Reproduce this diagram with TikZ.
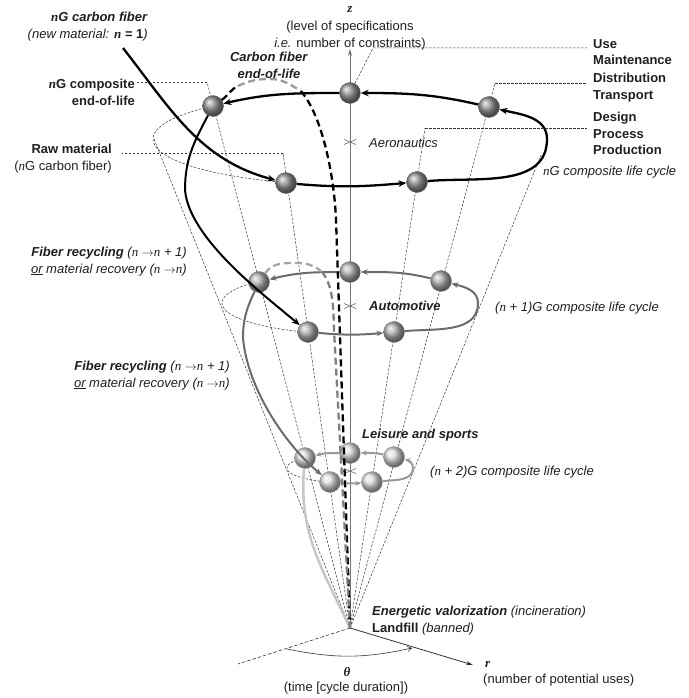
\documentclass[tikz,border=0pt]{standalone}
\usepackage{fontspec}
\setmainfont{Liberation Sans}
\newfontfamily\tms{Liberation Serif}
\usetikzlibrary{arrows.meta,calc}

\newcommand{\nv}{{\tms\itshape n}}
\newcommand{\bi}[1]{\textbf{\textit{#1}}}
\newcommand{\tto}{\ $\rightarrow$}

\tikzset{
  txt/.style={font=\fontsize{13}{16.5}\selectfont, text=black!88, inner sep=0pt},
  ballone/.style={circle, minimum size=21pt, inner sep=0pt, shading=ball, ball color=black!42, draw=black!60, line width=0.4pt},
  balltwo/.style={ballone, ball color=black!30, draw=black!50},
  ballthree/.style={ballone, ball color=black!13, draw=black!40},
  cycone/.style={black, line width=2.3pt, -{Stealth[length=8pt,width=6.5pt]}},
  cyctwo/.style={black!58, line width=2pt, -{Stealth[length=7pt,width=5.5pt]}},
  cycthree/.style={black!40, line width=2pt, -{Stealth[length=6pt,width=5pt]}},
  guide/.style={black!80, line width=0.5pt, dash pattern=on 2.5pt off 1.5pt},
  eol/.style={line width=2.3pt, dash pattern=on 7pt off 4pt},
}

\begin{document}
\begin{tikzpicture}[x=1pt,y=-1pt]
\useasboundingbox (0,0) rectangle (688,698);

% apex and guide ends
\coordinate (O) at (350,628);
\coordinate (zEnd) at (350,49);
\coordinate (rEnd) at (473,665);
\coordinate (thEnd) at (238,664);
\coordinate (th1) at (287,649);
\coordinate (th2) at (412,648);
\coordinate (kA) at (207,82);
\coordinate (kB) at (373,48);
\coordinate (kC) at (495,83);
\coordinate (kD) at (425,128);
\coordinate (kE) at (283,153);
\coordinate (coneL) at (154,139);
\coordinate (coneR) at (541,155);

% cone generatrices
\foreach \k in {coneL,coneR,kA,kC,kD,kE}
  \draw[guide] (O) -- (\k);

% hidden halves of the sections
\draw[guide] plot[domain=134:251,samples=40] ({350+197*cos(\x)},{139-46*sin(\x)});
\draw[guide] plot[domain=136:251,samples=40] ({350+128*cos(\x)},{303-31*sin(\x)});
\draw[guide] plot[domain=136:251,samples=30] ({350+63*cos(\x)},{468-15*sin(\x)});

% axes
\draw[black!55, line width=1pt, -{Stealth[length=7pt,width=4pt]}] (O) -- (zEnd);
\draw[black!80, line width=0.8pt, -{Stealth[length=7pt,width=4pt]}] (O) -- (rEnd);
\draw[black!80, line width=0.6pt, dash pattern=on 3.5pt off 2pt] (O) -- (thEnd);
\draw[black!80, line width=0.6pt, -{Straight Barb[length=4pt,width=5pt]}] (th1) to[bend right=12] (th2);

% section centres
\foreach \yc in {142,306,471}
  \draw[black!60, line width=0.6pt] (344,\yc-2.5) -- (356,\yc+2.5) (344,\yc+2.5) -- (356,\yc-2.5);

% nG composite life cycle
\node[ballone] (A1) at (213,106) {};
\node[ballone] (B1) at (350,93) {};
\node[ballone] (C1) at (489,107) {};
\node[ballone] (D1) at (417,182) {};
\node[ballone] (E1) at (286,183) {};
\coordinate (R1) at (547,139);

% (n+1)G composite life cycle
\node[balltwo] (A2) at (259,282) {};
\node[balltwo] (B2) at (350,272) {};
\node[balltwo] (C2) at (441,281) {};
\node[balltwo] (D2) at (394,332) {};
\node[balltwo] (E2) at (308,332) {};
\coordinate (R2) at (478,303);

% (n+2)G composite life cycle
\node[ballthree] (A3) at (305,458) {};
\node[ballthree] (B3) at (350,453) {};
\node[ballthree] (C3) at (394,457) {};
\node[ballthree] (D3) at (372,482) {};
\node[ballthree] (E3) at (330,482) {};
\coordinate (R3) at (413,468);

\draw[cycone] (E1) to[out=-5,in=185] (D1);
\draw[cycone] (D1) to[out=5,in=-90] (R1) to[out=90,in=-13] (C1);
\draw[cycone] (C1) to[out=167,in=0] (B1);
\draw[cycone] (B1) to[out=180,in=13] (A1);

\draw[cyctwo] (E2) to[out=-5,in=185] (D2);
\draw[cyctwo] (D2) to[out=5,in=-90] (R2) to[out=90,in=-14] (C2);
\draw[cyctwo] (C2) to[out=166,in=0] (B2);
\draw[cyctwo] (B2) to[out=180,in=14] (A2);

\draw[cycthree] (E3) to[out=-5,in=185] (D3);
\draw[cycthree] (D3) to[out=5,in=-90] (R3) to[out=90,in=-13] (C3);
\draw[cycthree] (C3) to[out=167,in=0] (B3);
\draw[cycthree] (B3) to[out=180,in=14] (A3);

% from one generation to the next
\coordinate (nGs) at (123,48);
\coordinate (tA) at (185,190);
\coordinate (tB) at (243,338);
\draw[cycone] (nGs) to[out=-52,in=165] (E1);
\draw[cycone, line width=2pt] (A1) to[out=-118,in=90] (tA) to[out=-85,in=140,looseness=0.7] (E2);
\draw[cyctwo] (A2) to[out=-115,in=90] (tB) to[out=-85,in=140,looseness=0.8] (E3);
\draw[black!22, line width=2.5pt] (A3) to[out=-95,in=115] (O);

% end-of-life
\coordinate (p1) at (238,86);
\coordinate (pk1) at (270,79);
\coordinate (p2) at (301,91);
\coordinate (q1) at (336,220);
\draw[eol] (A1) to[out=35,in=205] (p1);
\draw[eol, black!40] (p1) to[out=25,in=180] (pk1) to[out=0,in=150] (p2);
\draw[eol] (p2) to[out=-50,in=92,looseness=0.7] (q1) -- (O);

\coordinate (pk2) at (296,263);
\coordinate (p4) at (322,272);
\coordinate (q2) at (334,330);
\draw[eol, black!35] (A2) to[out=55,in=180] (pk2) to[out=0,in=140] (p4);
\draw[eol, black!50] (p4) to[out=-50,in=92,looseness=0.8] (q2) -- (O);

% labels
\node[txt] (lz) at (350,10) {\tms\bfseries\itshape z};
\node[txt, anchor=north, align=center] (lspec) at (350,21) {(level of specifications\\\textit{i.e.} number of constraints)};
\node[txt, anchor=north west, align=left] (luse) at (593,39) {\textbf{Use}\\\textbf{Maintenance}};
\node[txt, anchor=north west, align=left] (ldist) at (593,73) {\textbf{Distribution}\\\textbf{Transport}};
\node[txt, anchor=north west, align=left] (ldes) at (593,112) {\textbf{Design}\\\textbf{Process}\\\textbf{Production}};
\node[txt, anchor=north east, align=right] (lfib) at (148,12) {\bi{\nv G carbon fiber}\\\textit{(new material: }\textbf{\nv\ = 1}\textit{)}};
\node[txt, anchor=north east, align=right] (lcomp) at (135,79) {\textbf{\nv G composite}\\\textbf{end-of-life}};
\node[txt, anchor=north east, align=right] (lraw) at (112,144) {\textbf{Raw material}\\(\nv G carbon fiber)};
\node[txt, anchor=north, align=center] (lcfe) at (269,52) {\bi{Carbon fiber}\\\bi{end-of-life}};
\node[txt, anchor=north east, align=right] (lrec1) at (187,247) {\bi{Fiber recycling} \textit{(\nv\tto\nv\ + 1)}\\\textit{\underline{or} material recovery (\nv\tto\nv)}};
\node[txt, anchor=north east, align=right] (lrec2) at (230,361) {\bi{Fiber recycling} \textit{(\nv\tto\nv\ + 1)}\\\textit{\underline{or} material recovery (\nv\tto\nv)}};
\node[txt, anchor=west] (lcyc1) at (543,172) {\textit{\nv G composite life cycle}};
\node[txt, anchor=west] (lcyc2) at (495,308) {\textit{(\nv\ + 1)G composite life cycle}};
\node[txt, anchor=west] (lcyc3) at (430,472) {\textit{(\nv\ + 2)G composite life cycle}};
\node[txt, anchor=west] (laero) at (369,143) {\textit{Aeronautics}};
\node[txt, anchor=west] (lauto) at (369,306) {\bi{Automotive}};
\node[txt, anchor=west] (lleis) at (362,435) {\bi{Leisure and sports}};
\node[txt, anchor=north west, align=left] (lend) at (372,606) {\bi{Energetic valorization} \textit{(incineration)}\\\textbf{Landfill} \textit{(banned)}};
\node[txt, anchor=west] (lr) at (485,664) {\tms\bfseries\itshape r};
\node[txt, anchor=west] (lruse) at (483,680) {(number of potential uses)};
\node[txt] (lth) at (347,672) {\tms\bfseries\itshape θ};
\node[txt] (ltime) at (346,688) {(time [cycle duration])};

% leaders
\draw[guide, shorten >=2pt] (kA) -- (kA -| lcomp.east);
\draw[guide, shorten >=10pt] (kE) -- (kE -| lraw.east);
\draw[guide, shorten >=6pt] (B1) -- (kB) -- (kB -| luse.west);
\draw[guide, shorten >=6pt] (kC) -- (kC -| ldist.west);
\draw[guide, shorten >=6pt] (kD) -- (kD -| ldes.west);

\end{tikzpicture}
\end{document}
